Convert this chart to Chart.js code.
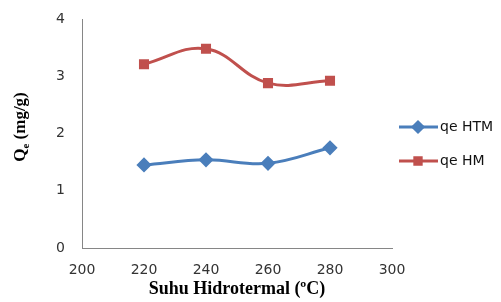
<!DOCTYPE html>
<html>
<head>
<meta charset="utf-8">
<script src="https://cdn.jsdelivr.net/npm/chart.js@4"></script>
<style>
  html, body { margin: 0; padding: 0; background: #fff; }
</style>
</head>
<body>
<canvas id="chart" width="501" height="302"></canvas>
<script>
// data
const temps = [220, 240, 260, 280];
const qeHTM = [1.45, 1.54, 1.48, 1.75];
const qeHM = [3.21, 3.48, 2.88, 2.92];
const xTicks = [200, 220, 240, 260, 280, 300];
const yTicks = [0, 1, 2, 3, 4];
const seriesNames = ["qe HTM", "qe HM"];

const blue = "#4a7ebb";
const red = "#c0504d";
const axisGrey = "#868686";
const tickFont = { family: "DejaVu Sans", size: 14 };

function toPoints(vals) {
  return temps.map((t, i) => ({ x: t, y: vals[i] }));
}

// legend with line + marker, drawn at the right
const sideLegend = {
  id: "sideLegend",
  afterDraw(chart) {
    const ctx = chart.ctx;
    const top = 127;
    chart.data.datasets.forEach((ds, i) => {
      const y = top + i * 34;
      ctx.save();
      ctx.strokeStyle = ds.borderColor;
      ctx.lineWidth = 3;
      ctx.beginPath();
      ctx.moveTo(399, y);
      ctx.lineTo(438, y);
      ctx.stroke();
      ctx.fillStyle = ds.backgroundColor;
      ctx.strokeStyle = ds.borderColor;
      Chart.helpers.drawPoint(ctx, {
        pointStyle: ds.pointStyle,
        radius: ds.pointRadius - 0.5,
        borderWidth: 1
      }, 418, y);
      ctx.fillStyle = "#111";
      ctx.font = "14px 'DejaVu Sans'";
      ctx.textBaseline = "middle";
      ctx.fillText(ds.label, 440, y);
      ctx.restore();
    });
  }
};

// y title with subscript e
const yTitle = {
  id: "yTitle",
  afterDraw(chart) {
    const ctx = chart.ctx;
    ctx.save();
    ctx.translate(21, 127);
    ctx.rotate(-Math.PI / 2);
    ctx.fillStyle = "#000";
    ctx.textBaseline = "middle";
    const big = "bold 17px 'Liberation Serif'";
    const small = "bold 11px 'Liberation Serif'";
    ctx.font = big;
    const wQ = ctx.measureText("Q").width;
    const rest = " (mg/g)";
    const wRest = ctx.measureText(rest).width;
    ctx.font = small;
    const wE = ctx.measureText("e").width;
    let x = -(wQ + wE + wRest) / 2;
    ctx.font = big;
    ctx.fillText("Q", x, 0);
    x += wQ;
    ctx.font = small;
    ctx.fillText("e", x, 5);
    x += wE;
    ctx.font = big;
    ctx.fillText(rest, x, 0);
    ctx.restore();
  }
};

new Chart(document.getElementById("chart"), {
  type: "line",
  data: {
    datasets: [
      {
        label: seriesNames[0],
        data: toPoints(qeHTM),
        borderColor: blue,
        backgroundColor: blue,
        borderWidth: 3,
        pointStyle: "rectRot",
        pointRadius: 5.5,
        pointHoverRadius: 5.5,
        tension: 0.4
      },
      {
        label: seriesNames[1],
        data: toPoints(qeHM),
        borderColor: red,
        backgroundColor: red,
        borderWidth: 3,
        pointStyle: "rect",
        pointRadius: 5,
        pointHoverRadius: 5,
        tension: 0.4
      }
    ]
  },
  options: {
    responsive: false,
    animation: false,
    devicePixelRatio: 1,
    layout: { padding: { top: 19, right: 109, left: 0, bottom: 0 } },
    plugins: {
      legend: { display: false },
      tooltip: { enabled: false }
    },
    scales: {
      x: {
        type: "linear",
        min: xTicks[0],
        max: xTicks[xTicks.length - 1],
        afterBuildTicks(scale) {
          scale.ticks = xTicks.map(v => ({ value: v }));
        },
        grid: { display: false, drawTicks: false },
        border: { color: axisGrey, width: 1 },
        ticks: { color: "#333", font: tickFont, padding: 14, maxRotation: 0 },
        title: {
          display: true,
          text: "Suhu Hidrotermal (ºC)",
          color: "#000",
          font: { family: "Liberation Serif", size: 18, weight: "bold" },
          padding: { top: 0, bottom: 2 }
        },
        afterFit(scale) { scale.height = 54; }
      },
      y: {
        min: yTicks[0],
        max: yTicks[yTicks.length - 1],
        afterBuildTicks(scale) {
          scale.ticks = yTicks.map(v => ({ value: v }));
        },
        grid: { display: false, drawTicks: false },
        border: { color: axisGrey, width: 1 },
        ticks: { color: "#333", font: tickFont, padding: 17 },
        afterFit(scale) {
          scale.width = 82;
          scale.paddingTop = 0;
          scale.paddingBottom = 0;
        }
      }
    }
  },
  plugins: [sideLegend, yTitle]
});
</script>
</body>
</html>
